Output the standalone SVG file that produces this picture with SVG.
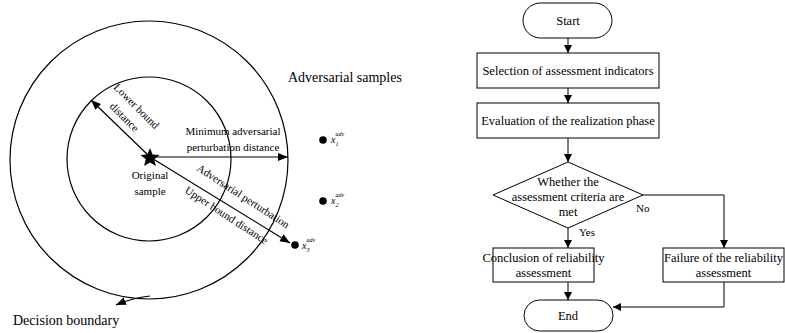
<svg xmlns="http://www.w3.org/2000/svg" width="785" height="333" viewBox="0 0 785 333">
<defs>
<marker id="ah" viewBox="0 0 10 10" refX="10" refY="5" markerWidth="8" markerHeight="8" markerUnits="userSpaceOnUse" orient="auto">
<path d="M0,0 L10,5 L0,10 Z" fill="#000"/>
</marker>
<marker id="ah2" viewBox="0 0 10 10" refX="10" refY="5" markerWidth="10" markerHeight="10" markerUnits="userSpaceOnUse" orient="auto">
<path d="M0,1 L10,5 L0,9 Z" fill="#000"/>
</marker>
</defs>
<style>
text{font-family:"Liberation Serif","Times New Roman",serif;fill:#000}
.s{font-size:11px}
.m{font-size:12.5px}
.l{font-size:14px}
.c{text-anchor:middle}
.ln{fill:none;stroke:#000;stroke-width:1.2}
.bx{fill:#fff;stroke:#000;stroke-width:1}
.cn{fill:none;stroke:#000;stroke-width:1;marker-end:url(#ah)}
.it{font-style:italic}
</style>
<rect width="785" height="333" fill="#fff"/>

<g id="left-diagram">
<g id="outer-circle"><circle cx="149" cy="160" r="139" class="ln"/></g>
<g id="inner-circle"><circle cx="149" cy="159" r="82" class="ln"/></g>
<g id="original-sample">
<polygon points="150,148 152.6,154.4 159.5,154.9 154.2,159.3 155.9,166 150,162.4 144.1,166 145.8,159.3 140.5,154.9 147.4,154.4" fill="#000"/>
<text class="s c" x="150" y="179">Original</text>
<text class="s c" x="150" y="195">sample</text>
</g>
<g id="samples">
<circle cx="323" cy="140" r="3.8" fill="#000"/>
<text x="331" y="143" class="it" font-size="10">x<tspan font-size="6" dy="3">1</tspan><tspan font-size="6" dx="-3" dy="-10">adv</tspan></text>
<circle cx="323" cy="201" r="3.8" fill="#000"/>
<text x="331" y="204" class="it" font-size="10">x<tspan font-size="6" dy="3">2</tspan><tspan font-size="6" dx="-3" dy="-10">adv</tspan></text>
<circle cx="295" cy="245" r="3.8" fill="#000"/>
<text x="302" y="249" class="it" font-size="10">x<tspan font-size="6" dy="3">3</tspan><tspan font-size="6" dx="-3" dy="-10">adv</tspan></text>
<text class="l" x="288" y="82">Adversarial samples</text>
</g>
<g id="left-connectors">
<line x1="150" y1="157" x2="91" y2="100" class="ln" marker-end="url(#ah2)"/>
<line x1="150" y1="157" x2="288" y2="157" class="ln" marker-end="url(#ah2)"/>
<line x1="150" y1="157" x2="290" y2="243" class="ln" marker-end="url(#ah2)"/>
<path d="M150,296 Q132,298 116,305" class="ln" marker-end="url(#ah2)"/>
</g>
<g id="left-labels">
<text class="s" transform="translate(113,88) rotate(45)">Lower bound</text>
<text class="s" transform="translate(109,107) rotate(45)">distance</text>
<text class="s c" x="233" y="135">Minimum adversarial</text>
<text class="s c" x="233" y="151">perturbation distance</text>
<text class="s" transform="translate(196,170) rotate(33)">Adversarial perturbation</text>
<text class="s" transform="translate(184,192) rotate(33)">Upper bound distance</text>
<text class="l" x="13" y="325">Decision boundary</text>
</g>
</g>

<g id="connectors">
<line x1="568" y1="38" x2="568" y2="53" class="cn"/>
<line x1="568" y1="88" x2="568" y2="103" class="cn"/>
<line x1="568" y1="138" x2="568" y2="162" class="cn"/>
<line x1="568" y1="228" x2="568" y2="248" class="cn"/>
<polyline points="643,195 724,195 724,248" class="cn"/>
<line x1="568" y1="282" x2="568" y2="300" class="cn"/>
<polyline points="724,282 724,307 613,307" class="cn"/>
<text class="s" x="636" y="212">No</text>
<text class="s" x="579" y="236">Yes</text>
</g>

<g id="start">
<rect x="523" y="3" width="89" height="35" rx="17.5" class="bx"/>
<text class="m c" x="568" y="25">Start</text>
</g>
<g id="selection">
<rect x="477" y="53" width="182" height="35" class="bx"/>
<text class="m c" x="568" y="75">Selection of assessment indicators</text>
</g>
<g id="evaluation">
<rect x="477" y="103" width="182" height="35" class="bx"/>
<text class="m c" x="568" y="125">Evaluation of the realization phase</text>
</g>
<g id="decision">
<polygon points="568,162 643,195 568,228 493,195" class="bx"/>
<text class="m c" x="568" y="186">Whether the</text>
<text class="m c" x="568" y="201">assessment criteria are</text>
<text class="m c" x="568" y="216">met</text>
</g>
<g id="conclusion">
<rect x="493" y="248" width="101" height="34" class="bx"/>
<text class="m c" x="543.5" y="262">Conclusion of reliability</text>
<text class="m c" x="543.5" y="277">assessment</text>
</g>
<g id="failure">
<rect x="663" y="248" width="121" height="34" class="bx"/>
<text class="m c" x="723.5" y="262">Failure of the reliability</text>
<text class="m c" x="723.5" y="277">assessment</text>
</g>
<g id="end">
<rect x="524" y="300" width="89" height="31" rx="15.5" class="bx"/>
<text class="m c" x="568" y="320">End</text>
</g>
</svg>
